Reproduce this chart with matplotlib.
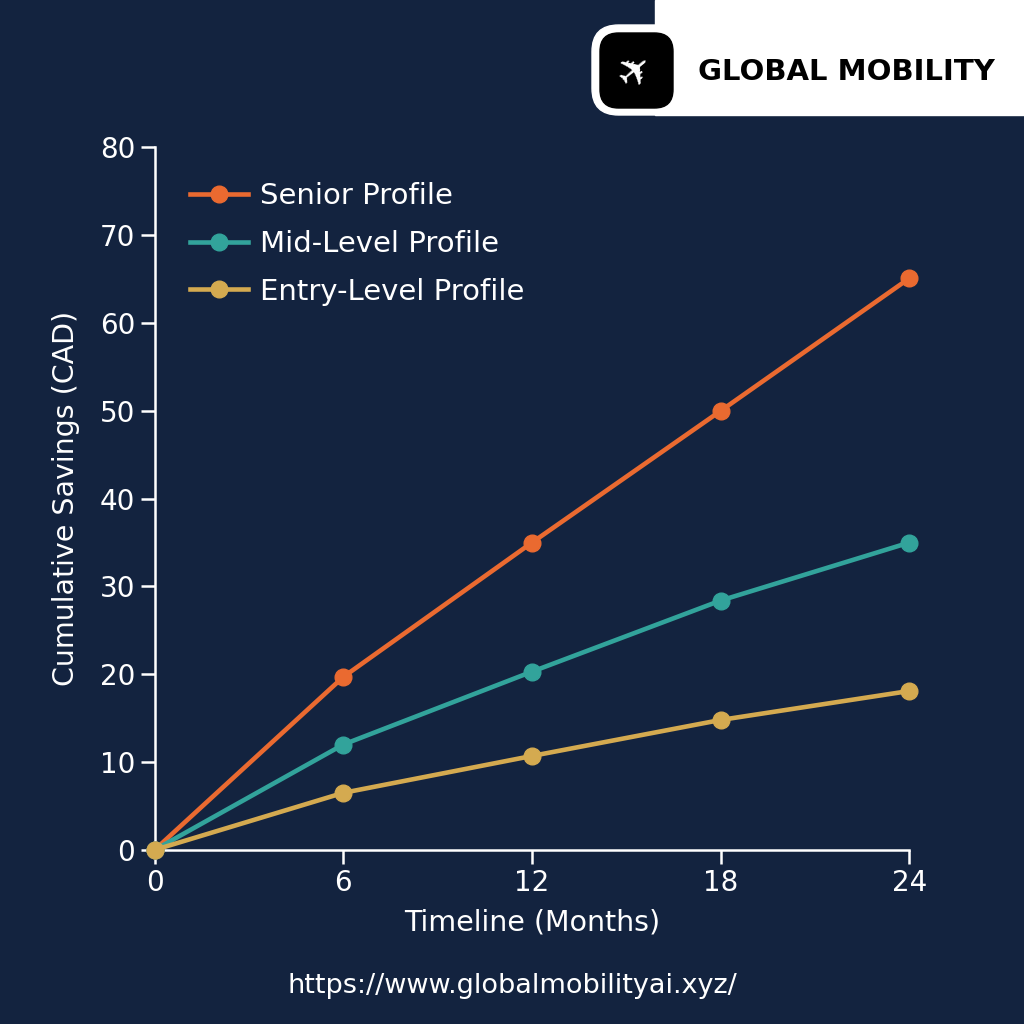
import matplotlib
matplotlib.use("Agg")
import matplotlib.pyplot as plt
from matplotlib.patches import FancyBboxPatch, Rectangle

BG = "#13233f"

months = [0, 6, 12, 18, 24]
senior = [0, 19.7, 35.0, 50.0, 65.1]
mid_level = [0, 12.0, 20.3, 28.4, 35.0]
entry_level = [0, 6.5, 10.7, 14.8, 18.1]

series_names = ["Senior Profile", "Mid-Level Profile", "Entry-Level Profile"]
series_colors = ["#ea6a30", "#32a39b", "#d4aa50"]
y_ticks = [0, 10, 20, 30, 40, 50, 60, 70, 80]

plt.rcParams["font.family"] = ["DejaVu Sans"]

fig = plt.figure(figsize=(10.24, 10.24), dpi=100, facecolor=BG)
ax = fig.add_axes([0.151, 0.170, 0.737, 0.686], facecolor=BG)

for vals, name, col in zip([senior, mid_level, entry_level], series_names, series_colors):
    ax.plot(months, vals, color=col, lw=3.3, marker="o", ms=12, label=name,
            clip_on=False, zorder=3)

ax.set_xlim(0, 24)
ax.set_ylim(0, 80)
ax.set_xticks(months)
ax.set_yticks(y_ticks)
for s in ["top", "right"]:
    ax.spines[s].set_visible(False)
for s in ["left", "bottom"]:
    ax.spines[s].set_color("white")
    ax.spines[s].set_linewidth(1.8)
ax.tick_params(colors="white", labelsize=20, width=1.8, length=10, pad=4)
ax.set_xlabel("Timeline (Months)", color="white", fontsize=20.5, labelpad=8)
ax.set_ylabel("Cumulative Savings (CAD)", color="white", fontsize=20.5, labelpad=14)

leg = ax.legend(loc="upper left", bbox_to_anchor=(0.02, 0.98), frameon=False,
                fontsize=21, labelcolor="white", handlelength=2.0,
                handletextpad=0.4, labelspacing=0.68, borderaxespad=0.3)

# header badge
fig.patches.append(Rectangle((655 / 1024, 1 - 115 / 1024), 369 / 1024, 115 / 1024,
                             transform=fig.transFigure, color="white", zorder=1))
fig.patches.append(FancyBboxPatch((592 / 1024, 1 - 115 / 1024), 110 / 1024, 90 / 1024,
                                  boxstyle="round,pad=0,rounding_size=0.026",
                                  transform=fig.transFigure, color="white", zorder=1))
fig.patches.append(FancyBboxPatch((600 / 1024, 1 - 108 / 1024), 73 / 1024, 75 / 1024,
                                  boxstyle="round,pad=0,rounding_size=0.018",
                                  transform=fig.transFigure, color="black", zorder=2))
fig.text(636 / 1024, 1 - 71 / 1024, "\u2708", color="white", fontsize=30,
         ha="center", va="center", rotation=40, zorder=3)
fig.text(698 / 1024, 1 - 72 / 1024, "GLOBAL MOBILITY", color="black", fontsize=21,
         fontweight="heavy", ha="left", va="center", zorder=3)

fig.text(512 / 1024, 1 - 986 / 1024, "https://www.globalmobilityai.xyz/",
         color="white", fontsize=19.5, ha="center", va="center")

fig.savefig("out.png", dpi=100, facecolor=BG)
